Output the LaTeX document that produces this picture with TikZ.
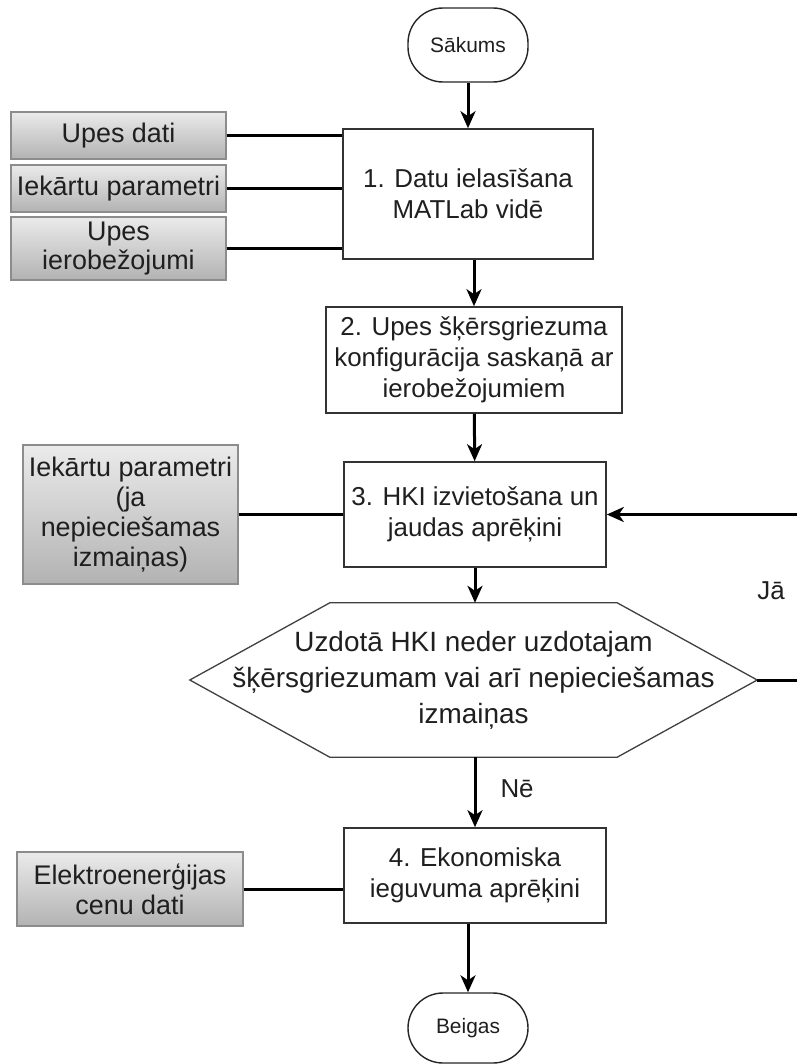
\documentclass[tikz,border=0pt]{standalone}
\usepackage{fontspec}
\setmainfont{Liberation Sans}
\usetikzlibrary{arrows.meta,shapes,calc}

\begin{document}
\begin{tikzpicture}[>={Stealth[length=17bp,width=15bp,inset=5bp]},line join=miter]
 \tikzstyle{every node}=[text=black!88,align=center,inner sep=0pt]
 \tikzstyle{term}=[draw=black!85,line width=1.4bp,fill=white,rounded corners=35bp,
   minimum width=120bp,font=\fontsize{21}{25}\selectfont]
 \tikzstyle{proc}=[draw=black!80,line width=1.6bp,fill=white,font=\fontsize{26}{31}\selectfont]
 \tikzstyle{input}=[draw=black!45,line width=1.2bp,top color=black!8,bottom color=black!30,
   minimum width=215bp,font=\fontsize{27}{30}\selectfont]
 \tikzstyle{flow}=[line width=3bp,black]
 \useasboundingbox (0bp,0bp) rectangle (797bp,-1064bp);

 \node (start) at (468bp,-45bp) [term,minimum height=74bp] {Sākums};
 \node (B1) at (468bp,-194bp) [proc,minimum width=250bp,minimum height=130bp]
   {1. Datu ielasīšana\\MATLab vidē};
 \node (B2) at (474bp,-360bp) [proc,minimum width=296bp,minimum height=106bp]
   {2. Upes šķērsgriezuma\\konfigurācija saskaņā ar\\ierobežojumiem};
 \node (B3) at (475bp,-514.5bp) [proc,minimum width=262bp,minimum height=105bp]
   {3. HKI izvietošana un\\jaudas aprēķini};
 \node (dec) at (473.5bp,-680bp) [minimum width=567bp,minimum height=154bp,
   font=\fontsize{28}{36}\selectfont]
   {Uzdotā HKI neder uzdotajam\\šķērsgriezumam vai arī nepieciešamas\\izmaiņas};
 \node (B4) at (475bp,-875.5bp) [proc,minimum width=262bp,minimum height=95bp]
   {4. Ekonomiska\\ieguvuma aprēķini};
 \node (end) at (468bp,-1028bp) [term,minimum height=70bp] {Beigas};

 % inputs on the left
 \node (upes) at (118.5bp,-135.5bp) [input,minimum height=47bp] {Upes dati};
 \node (iek) at (118.5bp,-188.5bp) [input,minimum height=47bp] {Iekārtu parametri};
 \node (ierob) at (118.5bp,-248.5bp) [input,minimum height=63bp] {Upes\\ierobežojumi};
 \node (iek2) at (130.5bp,-514.5bp) [input,minimum height=139bp]
   {Iekārtu parametri\\(ja\\nepieciešamas\\izmaiņas)};
 \node (cenas) at (130bp,-889bp) [input,minimum width=226bp,minimum height=74bp]
   {Elektroenerģijas\\cenu dati};

 % hexagon round the question
 \draw [draw=black!75,line width=1.3bp] (dec.west) -- ([xshift=140bp]dec.north west)
   -- ([xshift=-140bp]dec.north east) -- (dec.east)
   -- ([xshift=-140bp]dec.south east) -- ([xshift=140bp]dec.south west) -- cycle;

 \draw [flow,->] (start) to (B1);
 \draw [flow,->] (B2.north |- B1.south) to (B2);
 \draw [flow,->] (B2) to (B3);
 \draw [flow,->] (B3.south) to (B3.south |- dec.north);
 \draw [flow,->] (dec.south -| B4.north) to node[right=24bp,pos=0.45,font=\fontsize{26}{30}\selectfont] {Nē} (B4);
 \draw [flow,->] (B4.south -| end.north) to (end);
 \draw [flow,->] (dec.east) -- ++(45bp,0) |- node[pos=0.27,left=16bp,font=\fontsize{26}{30}\selectfont] {Jā} (B3.east);

 \draw [flow] (upes.east) -- (upes.east -| B1.west);
 \draw [flow] (iek.east) -- (iek.east -| B1.west);
 \draw [flow] (ierob.east) -- (ierob.east -| B1.west);
 \draw [flow] (iek2.east) -- (iek2.east -| B3.west);
 \draw [flow] (cenas.east) -- (cenas.east -| B4.west);
\end{tikzpicture}
\end{document}
